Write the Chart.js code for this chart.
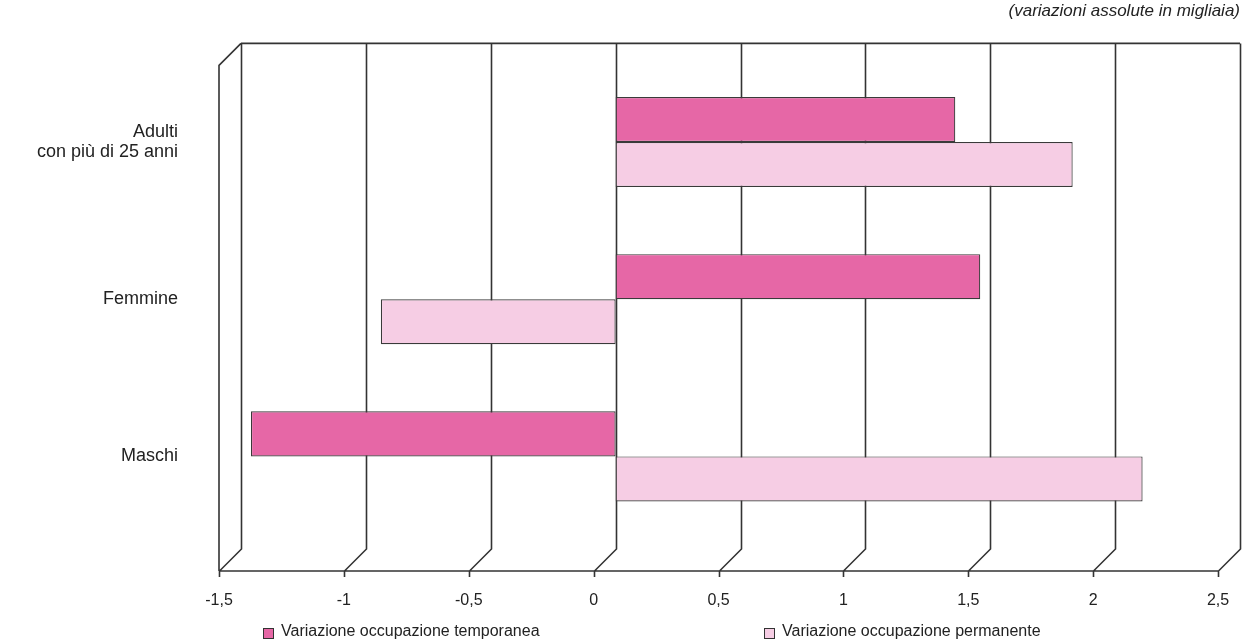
<!DOCTYPE html>
<html lang="it">
<head>
<meta charset="utf-8">
<title>Variazioni occupazione</title>
<script src="https://cdn.jsdelivr.net/npm/chart.js@4/dist/chart.umd.min.js"></script>
<style>
  html, body { margin: 0; padding: 0; background: #fff; }
  #wrap { width: 1245px; height: 641px; position: relative; }
</style>
</head>
<body>
<div id="wrap"><canvas id="canvas"></canvas></div>
<script>
// data (thousands)
var categories = [["Adulti", "con più di 25 anni"], "Femmine", "Maschi"];
var temporanea = [1.36, 1.46, -1.46];
var permanente = [1.83, -0.94, 2.11];
var seriesLabels = ["Variazione occupazione temporanea", "Variazione occupazione permanente"];
var xTicks = [-1.5, -1, -0.5, 0, 0.5, 1, 1.5, 2, 2.5];
var unitNote = "(variazioni assolute in migliaia)";

var colTemp = "rgb(230, 103, 166)";
var colPerm = "rgb(246, 205, 228)";
var lineCol = "#333333";
var textCol = "#222222";
var fontFam = "'Liberation Sans', Arial, Helvetica, sans-serif";
var depth = 22;      // offset of the front floor edge
var wallTop = 20;    // back wall goes this far above the first bar group
var wallBottom = 14; // ...and this far below the last one

function fmt(v) {
  return String(v).replace(".", ",");
}

// back wall with grid, left wall, floor with the diagonal ticks
const box3d = {
  id: "box3d",
  beforeDatasetsDraw(chart) {
    const ctx = chart.ctx;
    const a = chart.chartArea;
    const xs = chart.scales.x;
    const top = a.top - wallTop;
    const bottom = a.bottom + wallBottom;
    const fy = bottom + depth;
    ctx.save();
    ctx.strokeStyle = lineCol;
    ctx.lineWidth = 1.6;
    ctx.beginPath();
    ctx.moveTo(a.left, top);
    ctx.lineTo(a.right, top);
    ctx.moveTo(a.left, top);
    ctx.lineTo(a.left - depth, top + depth);
    ctx.lineTo(a.left - depth, fy);
    ctx.moveTo(a.left - depth, fy);
    ctx.lineTo(a.right - depth, fy);
    xs.ticks.forEach(function (t) {
      const px = Math.round(xs.getPixelForValue(t.value)) + 0.5;
      ctx.moveTo(px, top);
      ctx.lineTo(px, bottom);
      ctx.lineTo(px - depth, fy);
      ctx.lineTo(px - depth, fy + 6);
    });
    ctx.stroke();
    ctx.restore();
  },
  afterDraw(chart) {
    // legend, two entries spread under the plot
    const ctx = chart.ctx;
    const legX = [263, 764];
    const legY = 633;
    ctx.save();
    ctx.font = "16px " + fontFam;
    ctx.textBaseline = "middle";
    ctx.textAlign = "left";
    chart.data.datasets.forEach(function (ds, i) {
      ctx.fillStyle = ds.backgroundColor;
      ctx.fillRect(legX[i], legY - 5, 11, 11);
      ctx.lineWidth = 1;
      ctx.strokeStyle = lineCol;
      ctx.strokeRect(legX[i] + 0.5, legY - 4.5, 10, 10);
      ctx.fillStyle = textCol;
      ctx.fillText(ds.label, legX[i] + 18, legY - 1);
    });
    ctx.restore();
  },
};

const config = {
  type: "bar",
  data: {
    labels: categories,
    datasets: [
      {
        label: seriesLabels[0],
        data: temporanea,
        backgroundColor: colTemp,
        borderColor: "#3a3a3a",
        borderWidth: 1.2,
        borderSkipped: false,
      },
      {
        label: seriesLabels[1],
        data: permanente,
        backgroundColor: colPerm,
        borderColor: "#3a3a3a",
        borderWidth: 1.2,
        borderSkipped: false,
      },
    ],
  },
  options: {
    indexAxis: "y",
    responsive: true,
    maintainAspectRatio: false,
    animation: false,
    devicePixelRatio: 1,
    categoryPercentage: 0.573,
    barPercentage: 1,
    layout: { padding: { left: 0, right: 5, top: 0, bottom: 0 } },
    plugins: {
      legend: { display: false },
      tooltip: { enabled: false },
      title: {
        display: true,
        text: unitNote,
        align: "end",
        color: textCol,
        font: { family: fontFam, size: 17, style: "italic", weight: "normal", lineHeight: 1.2 },
        padding: { top: 1, bottom: 42 },
      },
    },
    scales: {
      x: {
        type: "linear",
        min: xTicks[0],
        max: xTicks[xTicks.length - 1],
        afterBuildTicks: function (s) {
          s.ticks = xTicks.map(function (v) { return { value: v }; });
        },
        afterFit: function (s) {
          s.height = 106;
          s.paddingLeft = 0;
          s.paddingRight = 0;
        },
        grid: { display: false, drawTicks: false },
        border: { display: false },
        ticks: {
          padding: 56,
          labelOffset: -depth,
          maxRotation: 0,
          color: textCol,
          font: { family: fontFam, size: 16 },
          callback: function (v) { return fmt(v); },
        },
      },
      y: {
        afterFit: function (s) {
          s.width = 241;
          s.paddingTop = 0;
          s.paddingBottom = 0;
        },
        grid: { display: false, drawTicks: false },
        border: { display: false },
        ticks: {
          padding: 63,
          color: textCol,
          font: { family: fontFam, size: 18, lineHeight: 1.15 },
        },
      },
    },
  },
  plugins: [box3d],
};

const myChart = new Chart(document.getElementById("canvas"), config);
</script>
</body>
</html>
